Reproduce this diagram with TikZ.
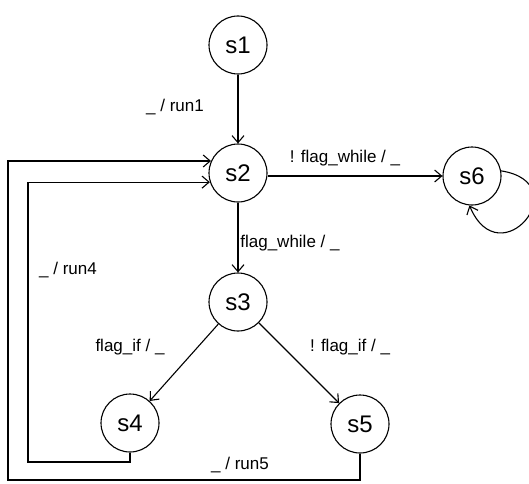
\documentclass[tikz,border=0pt]{standalone}
\usepackage{fontspec}
\setmainfont{Liberation Sans}
\usetikzlibrary{arrows.meta}
\begin{document}
\begin{tikzpicture}[x=1pt,y=1pt,
  state/.style={circle,draw,line width=1.1pt,minimum size=58pt,inner sep=0pt,font=\fontsize{24}{24}\selectfont},
  lbl/.style={font=\fontsize{17}{17}\selectfont,inner sep=1pt},
  trans/.style={line width=1.1pt,-{Straight Barb[length=7pt,width=12pt,line width=1.1pt]}}]
\useasboundingbox (0,0) rectangle (529,483);
% states
\node[state] (s1) at (238,438) {s1};
\node[state] (s2) at (238,310) {s2};
\node[state] (s3) at (238,181) {s3};
\node[state] (s4) at (130,60) {s4};
\node[state] (s5) at (360,59) {s5};
\node[state] (s6) at (472,307) {s6};
% corner points of the return paths
\coordinate (c4) at (28,21);
\coordinate (c5) at (8,3);
% transitions
\draw[trans] (s1) -- (s2);
\draw[trans] (s2.east |- s6.west) -- (s6.west);
\draw[trans] (s2) -- (s3);
\draw[trans] (s3) -- (s4);
\draw[trans] (s3) -- (s5);
\draw[trans] (s4.south) |- (c4) |- (s2.198);
\draw[trans] (s5.south) |- (c5) |- (s2.156);
\draw[trans] (s6.10) .. controls (578,300) and (500,205) .. (s6.265);
% labels
\node[lbl] (l1) at (175,376) {\_ / run1};
\node[lbl] (l2) at (345,325) {! flag\_while / \_};
\node[lbl] (l3) at (290,240) {flag\_while / \_};
\node[lbl] (l4) at (68,213) {\_ / run4};
\node[lbl] (l5) at (130,136) {flag\_if / \_};
\node[lbl] (l6) at (350,136) {! flag\_if / \_};
\node[lbl] (l7) at (240,18) {\_ / run5};
\end{tikzpicture}
\end{document}
